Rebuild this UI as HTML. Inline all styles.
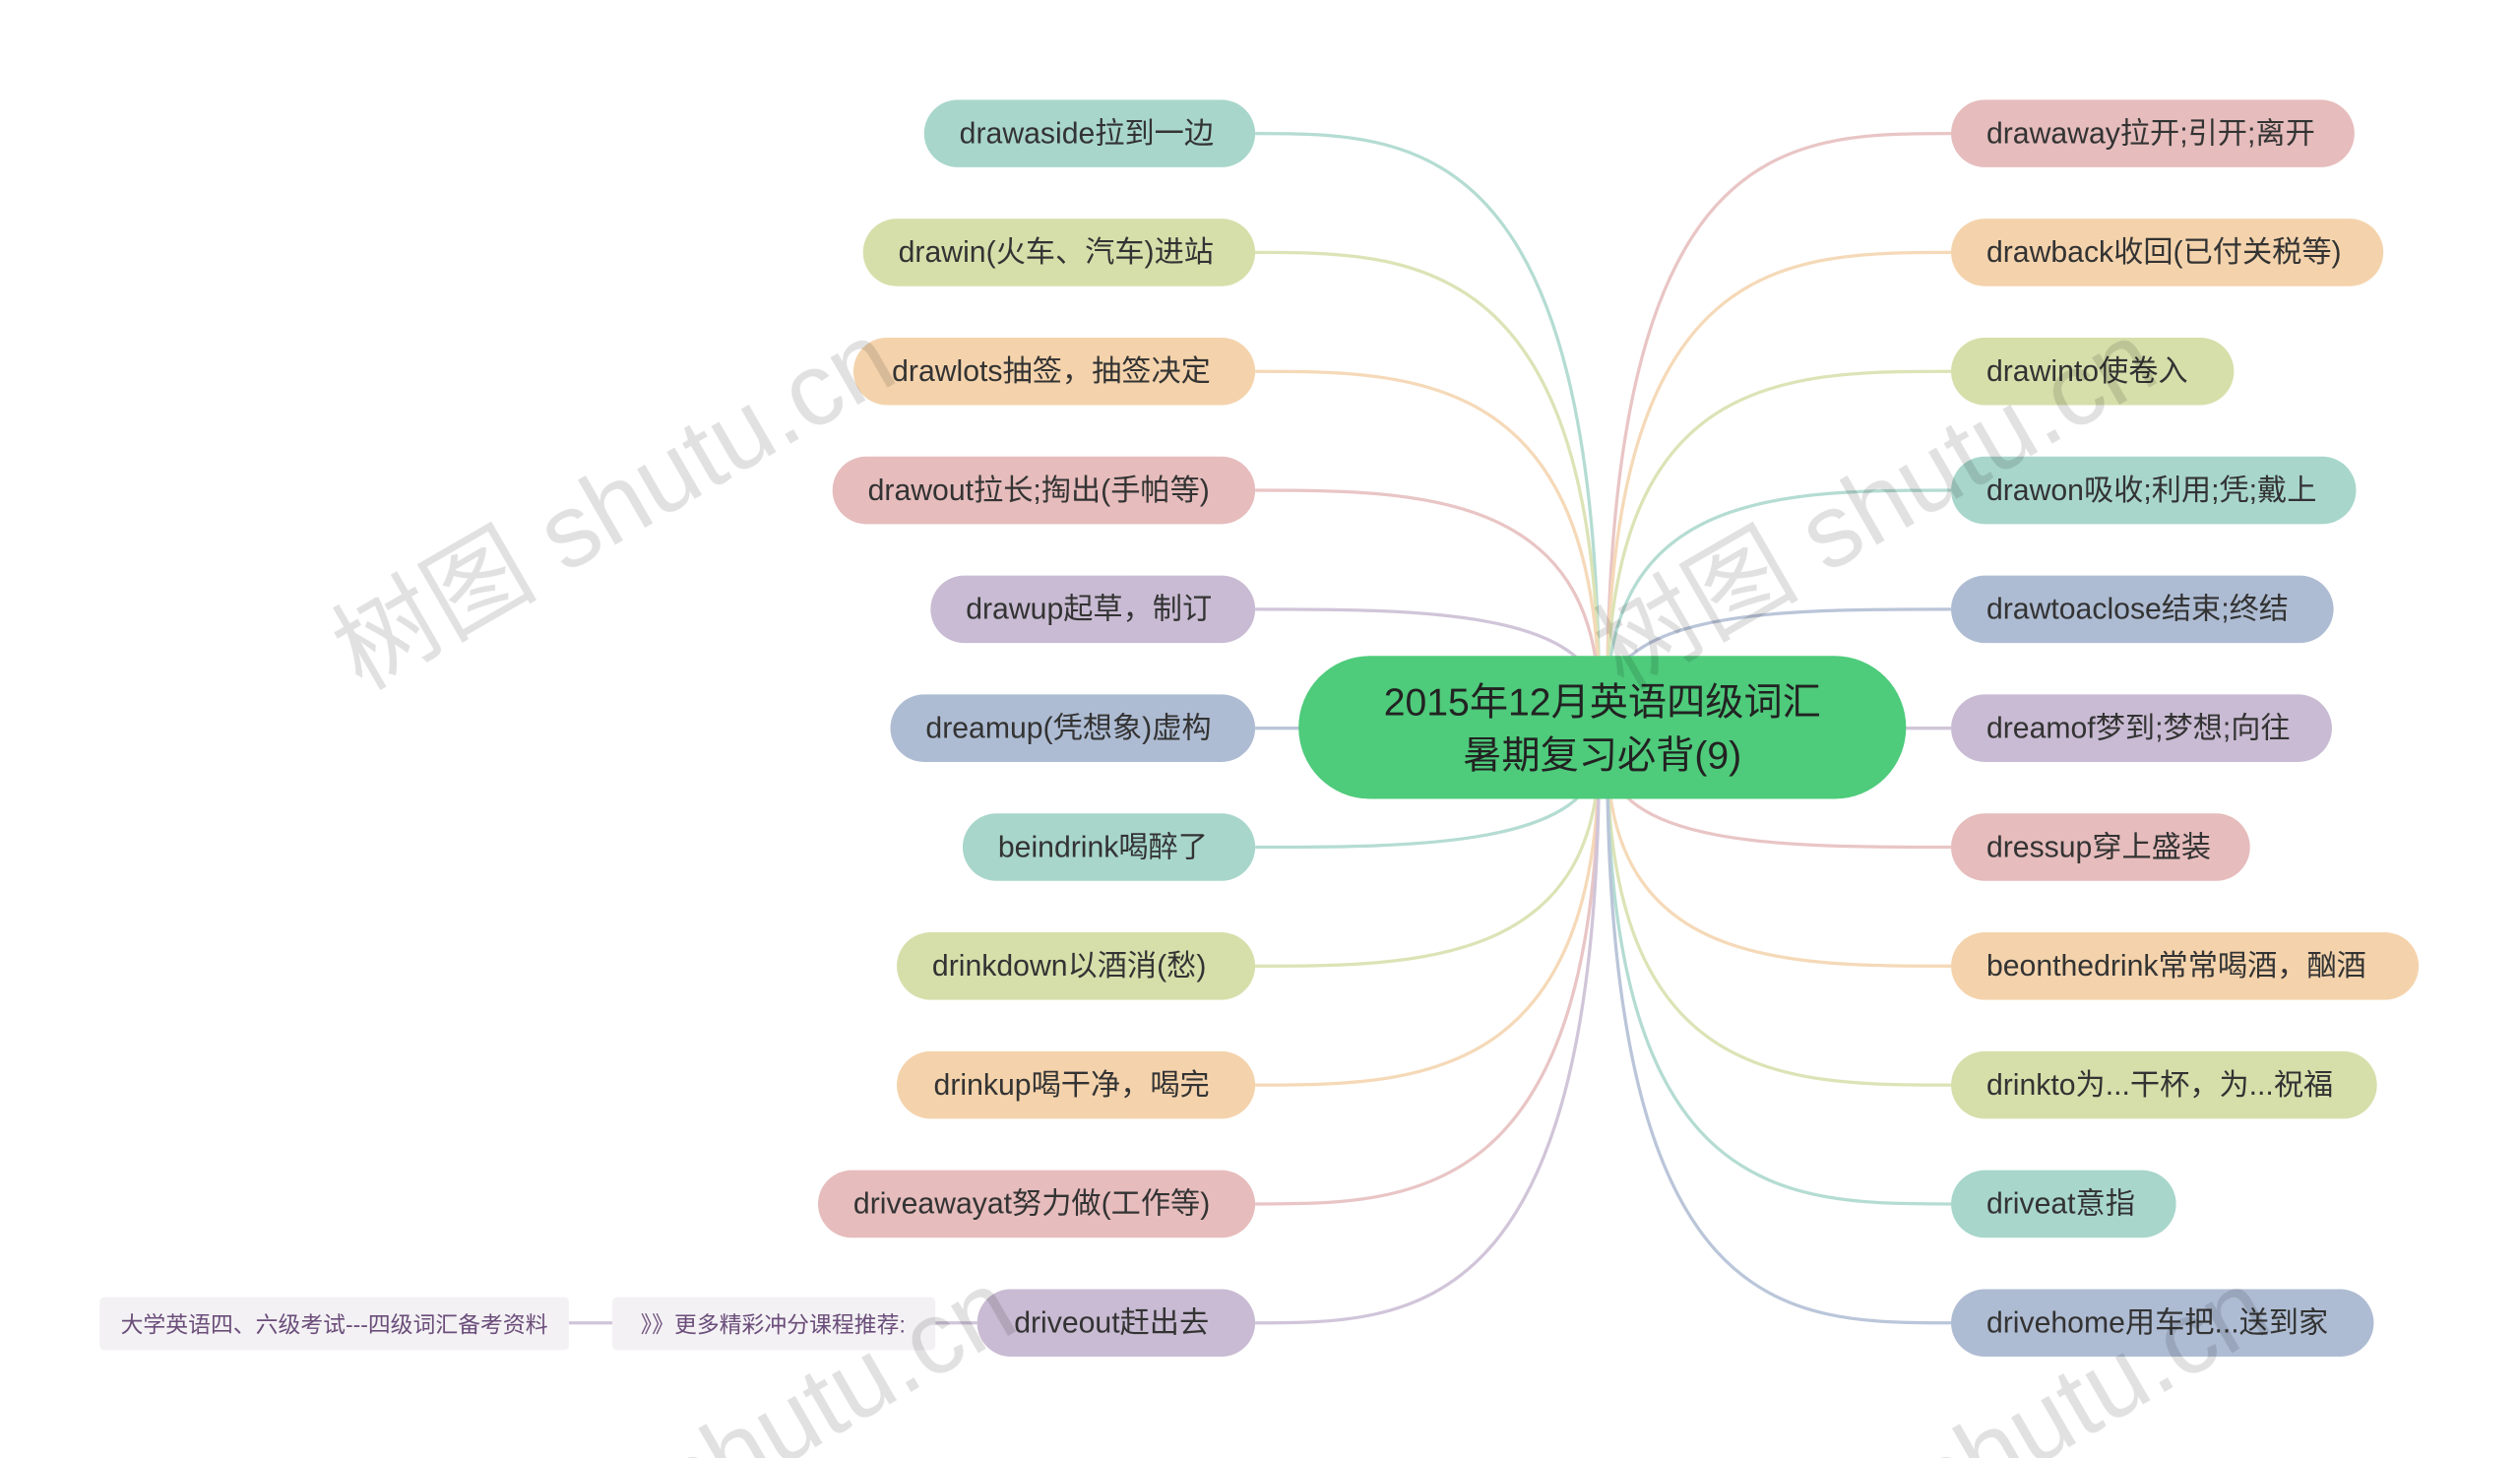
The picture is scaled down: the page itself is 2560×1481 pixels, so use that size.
<!DOCTYPE html>
<html><head><meta charset="utf-8"><style>
html,body{margin:0;padding:0;background:#fff;width:2560px;height:1481px;overflow:hidden;}
svg{display:block;overflow:hidden;}
text{font-family:"Liberation Sans","Noto Sans CJK SC",sans-serif;}
</style></head><body>
<svg width="2560" height="1481" viewBox="0 0 1568 907" xmlns="http://www.w3.org/2000/svg">
<g fill="none" stroke-width="2" opacity="0.85">
<path d="M995,440 C995,83 880,83 781,83" stroke="#a8d6cb"/>
<path d="M995,440 C995,157 880,157 781,157" stroke="#d6dfaa"/>
<path d="M995,440 C995,231 880,231 781,231" stroke="#f4d3ac"/>
<path d="M995,440 C995,305 880,305 781,305" stroke="#e6bcbc"/>
<path d="M995,440 C995,379 880,379 781,379" stroke="#c9bbd3"/>
<path d="M995,453 C995,453 880,453 781,453" stroke="#aebcd3"/>
<path d="M995,466 C995,527 880,527 781,527" stroke="#a8d6cb"/>
<path d="M995,466 C995,601 880,601 781,601" stroke="#d6dfaa"/>
<path d="M995,466 C995,675 880,675 781,675" stroke="#f4d3ac"/>
<path d="M995,466 C995,749 880,749 781,749" stroke="#e6bcbc"/>
<path d="M995,466 C995,823 880,823 781,823" stroke="#c9bbd3"/>
<path d="M1000,440 C1000,83 1110,83 1214,83" stroke="#e6bcbc"/>
<path d="M1000,440 C1000,157 1110,157 1214,157" stroke="#f4d3ac"/>
<path d="M1000,440 C1000,231 1110,231 1214,231" stroke="#d6dfaa"/>
<path d="M1000,440 C1000,305 1110,305 1214,305" stroke="#a8d6cb"/>
<path d="M1000,440 C1000,379 1110,379 1214,379" stroke="#aebcd3"/>
<path d="M1000,453 C1000,453 1110,453 1214,453" stroke="#c9bbd3"/>
<path d="M1000,466 C1000,527 1110,527 1214,527" stroke="#e6bcbc"/>
<path d="M1000,466 C1000,601 1110,601 1214,601" stroke="#f4d3ac"/>
<path d="M1000,466 C1000,675 1110,675 1214,675" stroke="#d6dfaa"/>
<path d="M1000,466 C1000,749 1110,749 1214,749" stroke="#a8d6cb"/>
<path d="M1000,466 C1000,823 1110,823 1214,823" stroke="#aebcd3"/>
<path d="M354,823 L381,823 M582,823 L608,823" stroke="#c9bbd3"/>
</g>
<g font-size="18.5" fill="#333">
<rect x="575" y="62" width="206" height="42" rx="21" fill="#a8d6cb"/><text x="597" y="89">drawaside拉到一边</text>
<rect x="537" y="136" width="244" height="42" rx="21" fill="#d6dfaa"/><text x="559" y="163">drawin(火车、汽车)进站</text>
<rect x="531" y="210" width="250" height="42" rx="21" fill="#f4d3ac"/><text x="555" y="237">drawlots抽签，抽签决定</text>
<rect x="518" y="284" width="263" height="42" rx="21" fill="#e6bcbc"/><text x="540" y="311">drawout拉长;掏出(手帕等)</text>
<rect x="579" y="358" width="202" height="42" rx="21" fill="#c9bbd3"/><text x="601" y="385">drawup起草，制订</text>
<rect x="554" y="432" width="227" height="42" rx="21" fill="#aebcd3"/><text x="576" y="459">dreamup(凭想象)虚构</text>
<rect x="599" y="506" width="182" height="42" rx="21" fill="#a8d6cb"/><text x="621" y="533">beindrink喝醉了</text>
<rect x="558" y="580" width="223" height="42" rx="21" fill="#d6dfaa"/><text x="580" y="607">drinkdown以酒消(愁)</text>
<rect x="558" y="654" width="223" height="42" rx="21" fill="#f4d3ac"/><text x="581" y="681">drinkup喝干净，喝完</text>
<rect x="509" y="728" width="272" height="42" rx="21" fill="#e6bcbc"/><text x="531" y="755">driveawayat努力做(工作等)</text>
<rect x="608" y="802" width="173" height="42" rx="21" fill="#c9bbd3"/><text x="631" y="829">driveout赶出去</text>

<rect x="1214" y="62" width="251" height="42" rx="21" fill="#e6bcbc"/><text x="1236" y="89">drawaway拉开;引开;离开</text>
<rect x="1214" y="136" width="269" height="42" rx="21" fill="#f4d3ac"/><text x="1236" y="163">drawback收回(已付关税等)</text>
<rect x="1214" y="210" width="176" height="42" rx="21" fill="#d6dfaa"/><text x="1236" y="237">drawinto使卷入</text>
<rect x="1214" y="284" width="252" height="42" rx="21" fill="#a8d6cb"/><text x="1236" y="311">drawon吸收;利用;凭;戴上</text>
<rect x="1214" y="358" width="238" height="42" rx="21" fill="#aebcd3"/><text x="1236" y="385">drawtoaclose结束;终结</text>
<rect x="1214" y="432" width="237" height="42" rx="21" fill="#c9bbd3"/><text x="1236" y="459">dreamof梦到;梦想;向往</text>
<rect x="1214" y="506" width="186" height="42" rx="21" fill="#e6bcbc"/><text x="1236" y="533">dressup穿上盛装</text>
<rect x="1214" y="580" width="291" height="42" rx="21" fill="#f4d3ac"/><text x="1236" y="607">beonthedrink常常喝酒，酗酒</text>
<rect x="1214" y="654" width="265" height="42" rx="21" fill="#d6dfaa"/><text x="1236" y="681">drinkto为...干杯，为...祝福</text>
<rect x="1214" y="728" width="140" height="42" rx="21" fill="#a8d6cb"/><text x="1236" y="755">driveat意指</text>
<rect x="1214" y="802" width="263" height="42" rx="21" fill="#aebcd3"/><text x="1236" y="829">drivehome用车把...送到家</text>
</g>
<rect x="808" y="408" width="378" height="89" rx="44.5" fill="#4ecb7b"/>
<text x="997" y="445" font-size="24" fill="#222" text-anchor="middle">2015年12月英语四级词汇</text>
<text x="997" y="478" font-size="24" fill="#222" text-anchor="middle">暑期复习必背(9)</text>
<rect x="62" y="807" width="292" height="33" rx="3" fill="#f3f1f4"/>
<text x="208" y="829" font-size="14" fill="#6b4d7a" text-anchor="middle">大学英语四、六级考试---四级词汇备考资料</text>
<rect x="381" y="807" width="201" height="33" rx="3" fill="#f3f1f4"/>
<text x="481" y="829" font-size="14" fill="#6b4d7a" text-anchor="middle">》》更多精彩冲分课程推荐:</text>
<g font-family="Liberation Serif, Noto Serif CJK SC, serif" font-size="64" fill="#000" opacity="0.12">
<text transform="translate(225,430) rotate(-30)">树图 shutu.cn</text>
<text transform="translate(1010,430) rotate(-30)">树图 shutu.cn</text>
<text transform="translate(300,1020) rotate(-30)">树图 shutu.cn</text>
<text transform="translate(1080,1020) rotate(-30)">树图 shutu.cn</text>
</g>
</svg>
</body></html>
